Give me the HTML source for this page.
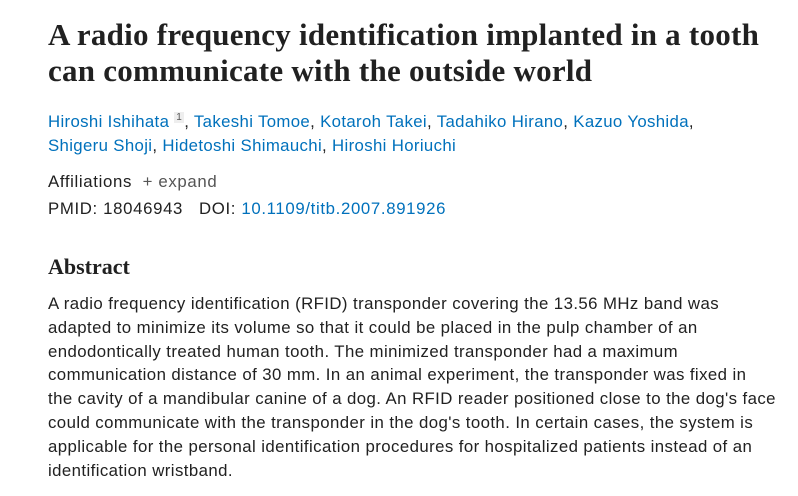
<!DOCTYPE html>
<html><head><meta charset="utf-8"><style>
body{margin:0;background:#fff;width:798px;height:496px;overflow:hidden;position:relative;font-family:"Liberation Sans",sans-serif;color:#212121}
.a{position:absolute;left:48px;white-space:nowrap}
h1{position:absolute;left:48px;top:17px;margin:0;font-family:"Liberation Serif",serif;font-weight:bold;font-size:31px;line-height:36px;color:#212121;letter-spacing:0.25px}
.au{font-size:16.8px;color:#0071bc;letter-spacing:0.35px}
.au sup{font-size:10px;color:#555;background:#eee;padding:0 2px;vertical-align:7px}
.t{font-size:16.8px;letter-spacing:0.65px}
h2{position:absolute;left:48px;top:254px;margin:0;font-family:"Liberation Serif",serif;font-weight:bold;font-size:22px}
.ab{position:absolute;left:48px;top:292px;font-size:16.8px;letter-spacing:0.42px;line-height:23.8px;white-space:nowrap;color:#212121}
</style></head><body>
<h1>A radio frequency identification implanted in a tooth<br>can communicate with the outside world</h1>
<div class="a au" style="top:112px">Hiroshi Ishihata <sup>1</sup><span style="color:#212121">,</span> Takeshi Tomoe<span style="color:#212121">,</span> Kotaroh Takei<span style="color:#212121">,</span> Tadahiko Hirano<span style="color:#212121">,</span> Kazuo Yoshida<span style="color:#212121">,</span></div>
<div class="a au" style="top:136px">Shigeru Shoji<span style="color:#212121">,</span> Hidetoshi Shimauchi<span style="color:#212121">,</span> Hiroshi Horiuchi</div>
<div class="a t" style="top:172px">Affiliations &nbsp;<span style="color:#555">+ expand</span></div>
<div class="a t" style="top:199px">PMID: 18046943 &nbsp; DOI: <span style="color:#0071bc">10.1109/titb.2007.891926</span></div>
<h2>Abstract</h2>
<div class="ab">A radio frequency identification (RFID) transponder covering the 13.56 MHz band was<br>adapted to minimize its volume so that it could be placed in the pulp chamber of an<br>endodontically treated human tooth. The minimized transponder had a maximum<br>communication distance of 30 mm. In an animal experiment, the transponder was fixed in<br>the cavity of a mandibular canine of a dog. An RFID reader positioned close to the dog's face<br>could communicate with the transponder in the dog's tooth. In certain cases, the system is<br>applicable for the personal identification procedures for hospitalized patients instead of an<br>identification wristband.</div>
</body></html>
